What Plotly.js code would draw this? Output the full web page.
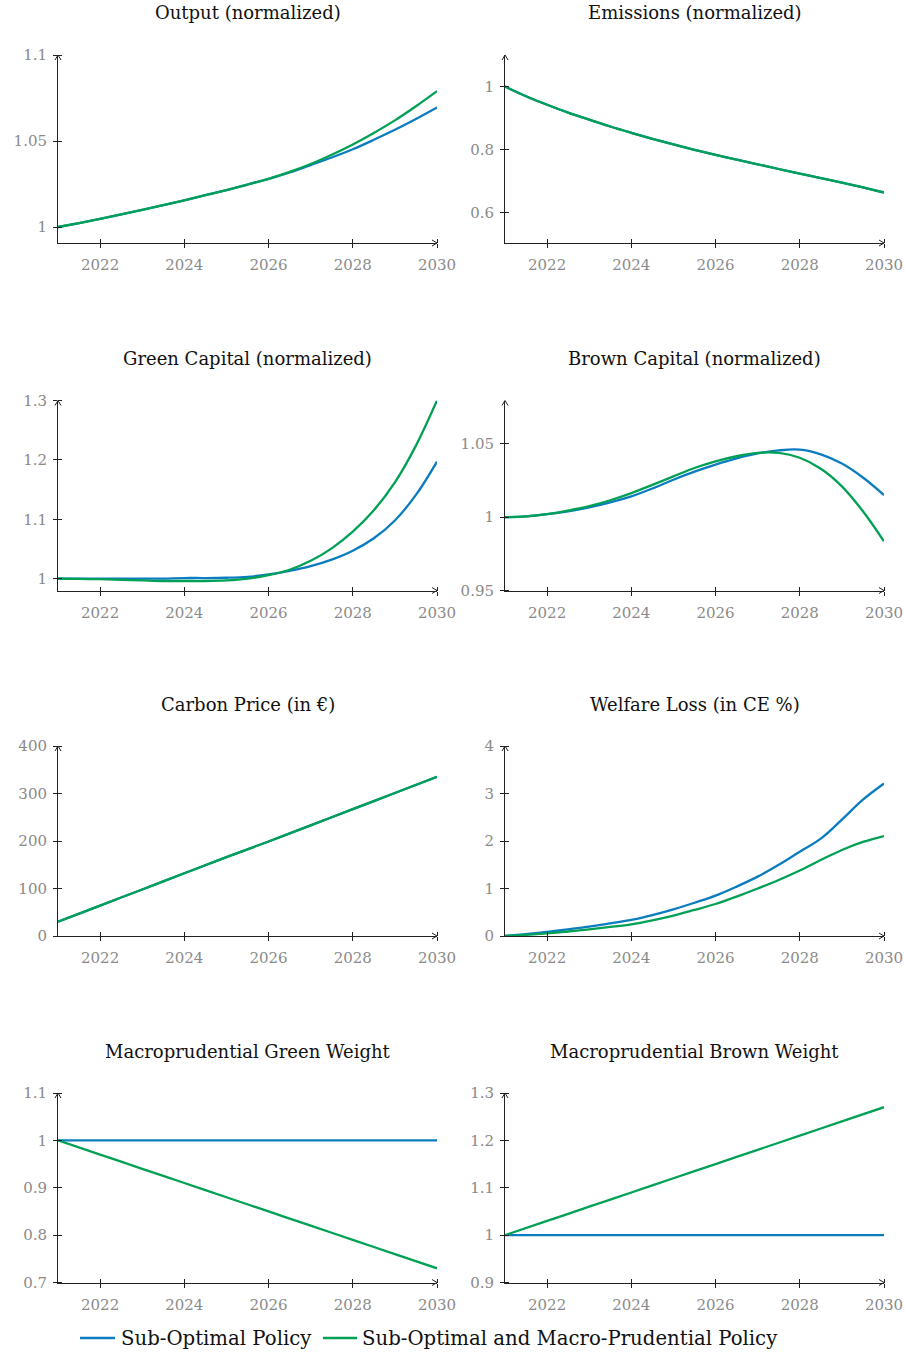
<!DOCTYPE html>
<html>
<head>
<meta charset="utf-8">
<script src="https://cdn.plot.ly/plotly-3.0.1.min.js"></script>
<style>html,body{margin:0;padding:0;background:#fff;overflow:hidden;}#chart{width:905px;height:1352px;}</style>
</head>
<body>
<div id="chart"></div>
<script>
// ---------- data ----------
const YEARS_H = [2021,2021.5,2022,2022.5,2023,2023.5,2024,2024.5,2025,2025.5,2026,2026.5,2027,2027.5,2028,2028.5,2029,2029.5,2030];
const YEARS = [2021,2022,2023,2024,2025,2026,2027,2028,2029,2030];

const SERIES_NAMES = ['Sub-Optimal Policy', 'Sub-Optimal and Macro-Prudential Policy'];
const PANEL_TITLES = ['Output (normalized)','Emissions (normalized)','Green Capital (normalized)','Brown Capital (normalized)','Carbon Price (in €)','Welfare Loss (in CE %)','Macroprudential Green Weight','Macroprudential Brown Weight'];

const output_sub   = [1.0000,1.0023,1.0047,1.0073,1.0100,1.0127,1.0155,1.0185,1.0215,1.0247,1.0280,1.0317,1.0360,1.0404,1.0452,1.0507,1.0565,1.0628,1.0695];
const output_macro = [1.0000,1.0023,1.0047,1.0073,1.0100,1.0127,1.0155,1.0185,1.0215,1.0247,1.0280,1.0320,1.0366,1.0420,1.0480,1.0547,1.0620,1.0702,1.0790];

const emis_sub   = [1.000,0.969,0.942,0.917,0.895,0.873,0.853,0.834,0.816,0.799,0.783,0.768,0.753,0.738,0.723,0.709,0.695,0.680,0.664];
const emis_macro = [1.000,0.969,0.942,0.917,0.895,0.873,0.853,0.834,0.816,0.799,0.783,0.768,0.753,0.738,0.723,0.709,0.695,0.680,0.663];

const gcap_sub   = [1.000,1.000,1.000,1.000,1.000,1.000,1.001,1.001,1.0015,1.003,1.007,1.013,1.021,1.032,1.047,1.068,1.098,1.141,1.197];
const gcap_macro = [1.000,0.9995,0.999,0.998,0.997,0.996,0.996,0.996,0.997,1.000,1.006,1.015,1.030,1.051,1.079,1.115,1.162,1.224,1.300];

const bcap_sub   = [1.000,1.0005,1.002,1.004,1.0066,1.010,1.0141,1.0195,1.0255,1.031,1.0358,1.040,1.0434,1.0455,1.046,1.0428,1.0365,1.027,1.015];
const bcap_macro = [1.000,1.0005,1.002,1.0045,1.0075,1.0115,1.0164,1.022,1.0278,1.0335,1.038,1.0415,1.0438,1.0438,1.0405,1.0330,1.021,1.004,0.9835];

const welf_sub   = [0,0.04,0.084,0.14,0.196,0.265,0.337,0.44,0.56,0.70,0.85,1.04,1.25,1.50,1.775,2.05,2.45,2.87,3.21];
const welf_macro = [0,0.025,0.056,0.095,0.14,0.19,0.246,0.33,0.43,0.55,0.674,0.83,1.00,1.18,1.38,1.60,1.81,1.98,2.105];

const cprice_sub   = [30,64,98,132,166,199,233,267,301,335];
const cprice_macro = [30,64,98,132,166,199,233,267,301,335];

const gw_sub   = [1,1,1,1,1,1,1,1,1,1];
const gw_macro = [1,0.97,0.94,0.91,0.88,0.85,0.82,0.79,0.76,0.73];

const bw_sub   = [1,1,1,1,1,1,1,1,1,1];
const bw_macro = [1,1.03,1.06,1.09,1.12,1.15,1.18,1.21,1.24,1.27];

const X_TICKS = [2022,2024,2026,2028,2030];
const Y_TICKS = [
  [1,1.05,1.1], [0.6,0.8,1], [1,1.1,1.2,1.3], [0.95,1,1.05],
  [0,100,200,300,400], [0,1,2,3,4], [0.7,0.8,0.9,1,1.1], [0.9,1,1.1,1.2,1.3]
];
const Y_TICK_TEXT = [
  ['1','1.05','1.1'], ['0.6','0.8','1'], ['1','1.1','1.2','1.3'], ['0.95','1','1.05'],
  ['0','100','200','300','400'], ['0','1','2','3','4'], ['0.7','0.8','0.9','1','1.1'], ['0.9','1','1.1','1.2','1.3']
];
const Y_RANGES = [
  [0.9907,1.1], [0.503,1.1], [0.980,1.3], [0.95,1.0795],
  [0,400], [0,4], [0.7,1.1], [0.9,1.3]
];

// ---------- styling ----------
const W = 905, H = 1352;
const BLUE = '#0a7cbf', GREEN = '#00a055';
const FONT = "'DejaVu Serif', 'Liberation Serif', serif";
const colX = [[58,437],[505,884]];
const rowY = [[55,243],[400.5,590.5],[746,936],[1093,1282.5]];

const panels = [
  [YEARS_H, output_sub, output_macro],
  [YEARS_H, emis_sub, emis_macro],
  [YEARS_H, gcap_sub, gcap_macro],
  [YEARS_H, bcap_sub, bcap_macro],
  [YEARS, cprice_sub, cprice_macro],
  [YEARS_H, welf_sub, welf_macro],
  [YEARS, gw_sub, gw_macro],
  [YEARS, bw_sub, bw_macro]
];

const traces = [];
const layout = {
  width: W, height: H,
  margin: {l:0,r:0,t:0,b:0},
  paper_bgcolor: '#fff', plot_bgcolor: '#fff',
  font: {family: FONT, color: '#111'},
  showlegend: false,
  annotations: [], shapes: []
};

panels.forEach((p, i) => {
  const k = i + 1;
  const col = i % 2, row = Math.floor(i / 2);
  const xa = 'x' + (k === 1 ? '' : k), ya = 'y' + (k === 1 ? '' : k);
  const [xs, s1, s2] = p;
  [s1, s2].forEach((s, j) => {
    traces.push({
      x: xs, y: s, xaxis: xa, yaxis: ya, type: 'scatter', mode: 'lines',
      name: SERIES_NAMES[j],
      line: {color: j === 0 ? BLUE : GREEN, width: 2.3, shape: 'spline', smoothing: 1}
    });
  });
  const axCommon = {
    showline: true, linecolor: '#222', linewidth: 1, showgrid: false, zeroline: false,
    ticks: 'outside', ticklen: 4, tickcolor: '#222', tickwidth: 1,
    tickfont: {family: FONT, size: 15, color: '#8a8a8a'}, fixedrange: true,
    ticklabeloverflow: 'allow'
  };
  layout['xaxis' + (k === 1 ? '' : k)] = Object.assign({}, axCommon, {
    domain: [colX[col][0]/W, colX[col][1]/W], anchor: ya,
    range: [2021, 2030], tickmode: 'array', tickvals: X_TICKS, ticktext: X_TICKS.map(String),
    ticklabelstandoff: 4,
    minor: {tickmode:'array', tickvals: X_TICKS, ticks:'inside', ticklen:4, tickcolor:'#222', showgrid:false}
  });
  layout['yaxis' + (k === 1 ? '' : k)] = Object.assign({}, axCommon, {
    domain: [1 - rowY[row][1]/H, 1 - rowY[row][0]/H], anchor: xa,
    range: Y_RANGES[i], tickmode: 'array', tickvals: Y_TICKS[i], ticktext: Y_TICK_TEXT[i],
    ticklabelstandoff: 3,
    minor: {tickmode:'array', tickvals: Y_TICKS[i], ticks:'inside', ticklen:4, tickcolor:'#222', showgrid:false}
  });
  layout.annotations.push({
    text: PANEL_TITLES[i], xref: 'paper', yref: 'paper',
    x: (colX[col][0] + colX[col][1]) / 2 / W, y: 1 - (rowY[row][0] - 42) / H,
    xanchor: 'center', yanchor: 'middle', showarrow: false,
    font: {family: FONT, size: 18, color: '#111'}
  });
  layout.shapes.push({
    type: 'path', xref: xa + ' domain', yref: ya + ' domain',
    xsizemode: 'pixel', ysizemode: 'pixel', xanchor: 1, yanchor: 0,
    path: 'M -5 3 L 0 0 L -5 -3', line: {color: '#222', width: 1}
  });
  layout.shapes.push({
    type: 'path', xref: xa + ' domain', yref: ya + ' domain',
    xsizemode: 'pixel', ysizemode: 'pixel', xanchor: 0, yanchor: 1,
    path: 'M -3 -5 L 0 0 L 3 -5', line: {color: '#222', width: 1}
  });
});

// ---------- legend (drawn below the panels) ----------
const LEG_Y = 1 - 1338 / H;
const legItems = [
  {x0: 80, x1: 115, tx: 119, color: BLUE, text: SERIES_NAMES[0]},
  {x0: 323, x1: 357, tx: 360, color: GREEN, text: SERIES_NAMES[1]}
];
legItems.forEach(it => {
  layout.shapes.push({type:'line', xref:'paper', yref:'paper', x0: it.x0/W, x1: it.x1/W, y0: LEG_Y, y1: LEG_Y,
                      line:{color: it.color, width: 2.5}});
  layout.annotations.push({text: it.text, xref:'paper', yref:'paper', x: it.tx/W, y: LEG_Y,
                           xanchor:'left', yanchor:'middle', showarrow:false,
                           font:{family: FONT, size: 19.7, color:'#111'}});
});

Plotly.newPlot('chart', traces, layout, {displayModeBar: false, staticPlot: true});
</script>
</body>
</html>
